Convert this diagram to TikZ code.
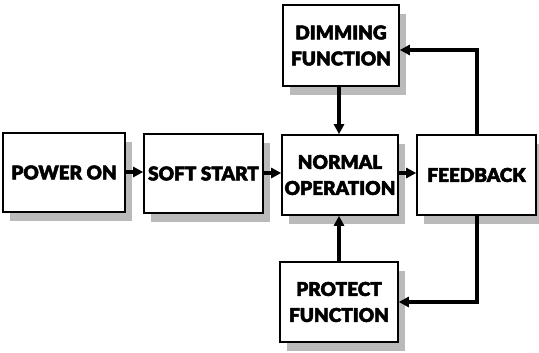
\documentclass[tikz,border=0pt]{standalone}
\usepackage{fontspec}
\newfontfamily\heavy[AutoFakeBold=2.5]{Lato Black}
\usetikzlibrary{arrows.meta}
\begin{document}
\begin{tikzpicture}[x=1pt,y=-1pt,
  blockbox/.style={draw=black,line width=1.6pt,fill=white,rectangle,align=center,
    inner sep=0pt,font=\heavy\bfseries\fontsize{19}{26}\selectfont},
  conn/.style={line width=3.4pt,-{Triangle[length=10pt,width=10pt]}}]
\useasboundingbox (0,0) rectangle (539,353);
% shadows
\foreach \a/\b/\c/\d in {3/133/125/212, 144/134/263/213, 283/5/399/86, 282/135/398/215, 417/135/536/215, 280/262/398/342}{
  \fill[black!27] (\a+7,\b+9) rectangle (\c+7,\d+9);
}
\node[blockbox,minimum width=122pt,minimum height=79pt] (power) at (64,172.5) {POWER ON};
\node[blockbox,minimum width=119pt,minimum height=79pt] (soft) at (203.5,173.5) {SOFT START};
\node[blockbox,minimum width=116pt,minimum height=81pt] (dim) at (341,45.5) {DIMMING\\FUNCTION};
\node[blockbox,minimum width=116pt,minimum height=80pt] (normal) at (340,175) {NORMAL\\OPERATION};
\node[blockbox,minimum width=119pt,minimum height=80pt] (feed) at (476.5,175) {FEEDBACK};
\node[blockbox,minimum width=118pt,minimum height=80pt] (prot) at (339,302) {PROTECT\\FUNCTION};
\coordinate (up) at (477,50);
\coordinate (dn) at (477,302);
\draw[conn] (power.east |- 0,172) -- (soft.west |- 0,172);
\draw[conn] (soft.east |- 0,173) -- (normal.west |- 0,173);
\draw[conn] (normal.east |- 0,173) -- (feed.west |- 0,173);
\draw[conn] (dim.south -| 339,0) -- (normal.north -| 339,0);
\draw[conn] (prot.north -| 339,0) -- (normal.south -| 339,0);
\draw[conn,line join=miter] (feed.north -| up) -- (up) -- (dim.east |- up);
\draw[conn,line join=miter] (feed.south -| dn) -- (dn) -- (prot.east |- dn);
\end{tikzpicture}
\end{document}
